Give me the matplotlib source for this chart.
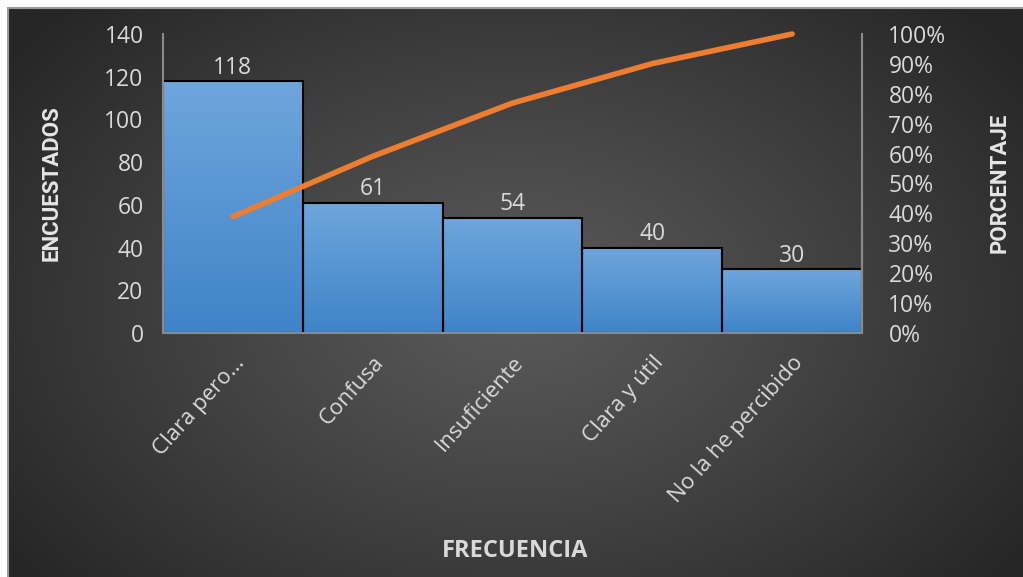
import numpy as np
import matplotlib
matplotlib.use("Agg")
import matplotlib.pyplot as plt
from matplotlib.ticker import PercentFormatter

categories = ["Clara pero...", "Confusa", "Insuficiente", "Clara y útil", "No la he percibido"]
counts = [118, 61, 54, 40, 30]
cum_pct = [38.9, 59.1, 76.9, 90.1, 100.0]
y_ticks = [0, 20, 40, 60, 80, 100, 120, 140]
pct_ticks = [0, 10, 20, 30, 40, 50, 60, 70, 80, 90, 100]

W, H = 1023, 577
fig = plt.figure(figsize=(W / 100, H / 100), dpi=100, facecolor="white")

# background radial gradient
bg = fig.add_axes([7 / W, 0, 1 - 7 / W, 1 - 7 / H], zorder=-10)
bg.set_axis_off()
ny, nx = 300, 530
yy, xx = np.mgrid[0:ny, 0:nx]
cx, cy = nx * 0.50, ny * 0.52
r = np.sqrt(((xx - cx) / (nx * 0.62)) ** 2 + ((yy - cy) / (ny * 0.75)) ** 2)
r = np.clip(r, 0, 1)
c0, c1 = 0x5a / 255, 0x26 / 255
val = c0 + (c1 - c0) * r ** 1.1
img = np.dstack([val, val, val])
bg.imshow(img, aspect="auto", extent=[0, 1, 0, 1], interpolation="bicubic")
bg.set_xlim(0, 1)
bg.set_ylim(0, 1)
bg.plot([0.001, 0.001], [0, 1], color="#9a9a9a", lw=1.5)
bg.plot([0, 1], [0.999, 0.999], color="#9a9a9a", lw=1.5)

ax = fig.add_axes([163 / W, 1 - 333 / H, (862 - 163) / W, (333 - 34) / H])
ax.patch.set_alpha(0)
x = np.arange(len(categories))
bars = ax.bar(x, counts, width=1.0, color="#5b9bd5", edgecolor="black", linewidth=1.5, zorder=2)

# gradient fill for bars
grad = np.linspace(0, 1, 256).reshape(-1, 1)
top = np.array([0x6f, 0xa6, 0xdc]) / 255
bot = np.array([0x3f, 0x84, 0xc8]) / 255
gimg = top[None, None, :] * (1 - grad[..., None]) + bot[None, None, :] * grad[..., None]
for b in bars:
    bx, by = b.get_x(), b.get_y()
    bw, bh = b.get_width(), b.get_height()
    im = ax.imshow(gimg, extent=[bx, bx + bw, by, by + bh], aspect="auto", zorder=2.1,
                   origin="upper")
    im.set_clip_path(b)
    b.set_facecolor("none")
    b.set_zorder(2.2)

ax.set_xlim(-0.5, len(categories) - 0.5)
ax.set_ylim(0, 140)
ax.set_yticks(y_ticks)
ax.set_xticks(x)
ax.set_xticklabels(categories, rotation=48, ha="right", va="top", rotation_mode="anchor",
                   fontsize=16, color="#d9d9d9", family="Open Sans")
ax.tick_params(axis="x", length=0, pad=14)
ax.tick_params(axis="y", length=0, pad=14, labelsize=16.5, colors="#d9d9d9")
for lab in ax.get_yticklabels():
    lab.set_family("Open Sans")
ax.spines["top"].set_visible(False)
for s in ["left", "right", "bottom"]:
    ax.spines[s].set_color("#8a8a8a")
    ax.spines[s].set_linewidth(1.5)

for xi, v in zip(x, counts):
    ax.text(xi, v + 0.6, str(v), ha="center", va="bottom", fontsize=16.5,
            color="#d9d9d9", family="Open Sans", zorder=5)

ax2 = ax.twinx()
ax2.set_ylim(0, 100)
ax2.set_yticks(pct_ticks)
ax2.yaxis.set_major_formatter(PercentFormatter(decimals=0))
ax2.tick_params(axis="y", length=0, pad=19, labelsize=16.5, colors="#d9d9d9")
for lab in ax2.get_yticklabels():
    lab.set_family("Open Sans")
for s in ["top", "left", "bottom"]:
    ax2.spines[s].set_visible(False)
ax2.spines["right"].set_color("#8a8a8a")
ax2.spines["right"].set_linewidth(1.5)
ax2.plot(x, cum_pct, color="#ed7d31", lw=4, solid_capstyle="round", zorder=6, clip_on=False)

fig.text(52 / W, 1 - 183 / H, "ENCUESTADOS", rotation=90, ha="center", va="center",
         fontsize=16, fontweight="bold", color="#e6e6e6", family="Roboto")
fig.text(1000 / W, 1 - 183 / H, "PORCENTAJE", rotation=90, ha="center", va="center",
         fontsize=16, fontweight="bold", color="#e6e6e6", family="Roboto")
fig.text(515 / W, 1 - 551 / H, "FRECUENCIA", ha="center", va="center",
         fontsize=17, fontweight="bold", color="#d9d9d9", family="Open Sans")

fig.savefig("out.png", dpi=100, facecolor="white")
